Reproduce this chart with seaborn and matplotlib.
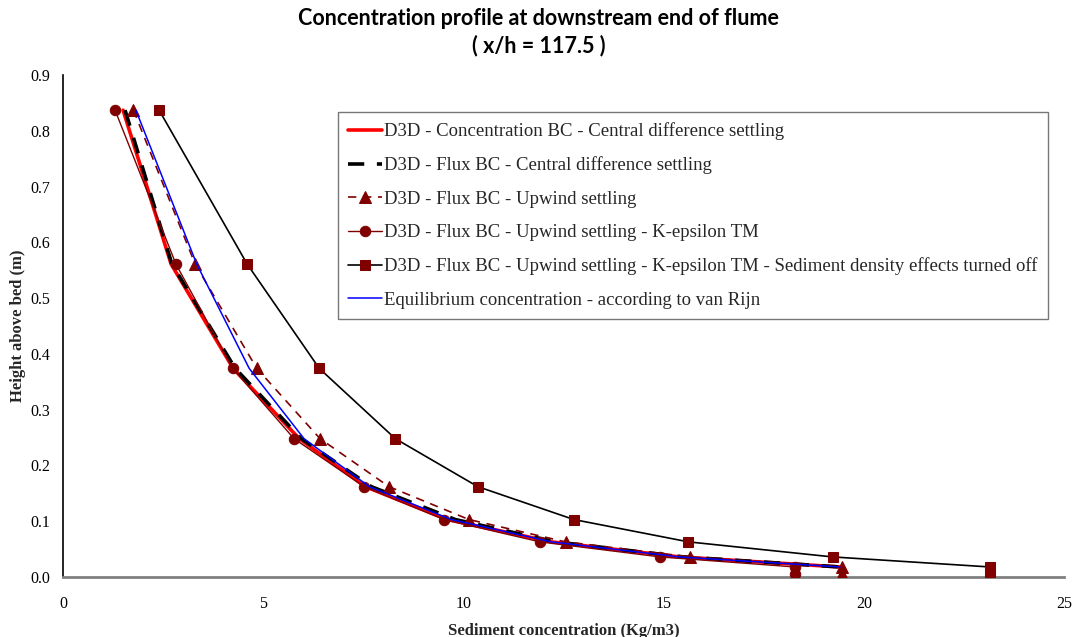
import matplotlib
matplotlib.use("Agg")
import matplotlib.pyplot as plt
import seaborn as sns
import pandas as pd

# ---- data ----
heights = [0.837, 0.561, 0.374, 0.248, 0.162, 0.103, 0.063, 0.036, 0.018]
heights_ext = [0.837, 0.561, 0.374, 0.248, 0.162, 0.103, 0.063, 0.036, 0.018, 0.005]

conc_bc_central = [1.50, 2.70, 4.25, 5.90, 7.55, 9.60, 12.20, 15.40, 19.40]
flux_bc_central = [1.55, 2.72, 4.30, 5.95, 7.70, 9.80, 12.30, 15.50, 19.40]
flux_bc_upwind = [1.76, 3.30, 4.84, 6.42, 8.14, 10.14, 12.55, 15.66, 19.45, 19.45]
flux_bc_upwind_keps = [1.30, 2.82, 4.24, 5.77, 7.52, 9.52, 11.91, 14.91, 18.28, 18.28]
flux_bc_upwind_keps_nodens = [2.40, 4.60, 6.40, 8.30, 10.36, 12.76, 15.62, 19.22, 23.15, 23.15]
equilibrium_vanrijn = [1.82, 3.34, 4.65, 6.02, 7.65, 9.70, 12.20, 15.40, 19.40]

labels = [
    "D3D - Concentration BC - Central difference settling",
    "D3D - Flux BC - Central difference settling",
    "D3D - Flux BC - Upwind settling",
    "D3D - Flux BC - Upwind settling - K-epsilon TM",
    "D3D - Flux BC - Upwind settling - K-epsilon TM - Sediment density effects turned off",
    "Equilibrium concentration - according to van Rijn",
]

title = "Concentration profile at downstream end of flume\n( x/h = 117.5 )"
xlabel = "Sediment concentration (Kg/m3)"
ylabel = "Height above bed (m)"
xticks = [0, 5, 10, 15, 20, 25]
yticks = [0.0, 0.1, 0.2, 0.3, 0.4, 0.5, 0.6, 0.7, 0.8, 0.9]

# ---- plot ----
sns.set_style("white")
plt.rcParams["font.family"] = ["Liberation Serif", "DejaVu Serif"]

fig = plt.figure(figsize=(10.77, 6.37), dpi=100)
ax = fig.add_axes([63 / 1077, 1 - 577 / 637, (1064 - 63) / 1077, (577 - 75) / 637])

dark_red = "#800000"

def draw(xs, ys, label, **kw):
    df = pd.DataFrame({"x": xs, "y": ys[: len(xs)]})
    sns.lineplot(data=df, x="x", y="y", sort=False, estimator=None, ax=ax,
                 label=label, **kw)

draw(conc_bc_central, heights, labels[0], color="#FF0000", linewidth=2.6, zorder=3)
draw(flux_bc_central, heights, labels[1], color="black", linewidth=2.6,
     dashes=(4.5, 3.5), zorder=4)
draw(flux_bc_upwind, heights_ext, labels[2], color=dark_red, linewidth=1.2,
     dashes=(5, 4), marker="^", markersize=8, markeredgecolor=dark_red,
     markerfacecolor=dark_red, zorder=5)
draw(flux_bc_upwind_keps, heights_ext, labels[3], color=dark_red, linewidth=1.0,
     marker="o", markersize=7.5, markeredgecolor=dark_red,
     markerfacecolor=dark_red, zorder=5)
draw(flux_bc_upwind_keps_nodens, heights_ext, labels[4], color="black", linewidth=1.2,
     marker="s", markersize=7.5, markeredgecolor=dark_red,
     markerfacecolor=dark_red, zorder=5)
draw(equilibrium_vanrijn, heights, labels[5], color="#0000FF", linewidth=1.1, zorder=6)

ax.set_xlim(0, 25)
ax.set_ylim(0, 0.9)
ax.set_xticks(xticks)
ax.set_yticks(yticks)
ax.set_xticklabels([str(t) for t in xticks])
ax.set_yticklabels([f"{t:.1f}" for t in yticks])
ax.tick_params(axis="both", direction="inout", length=9, width=1, labelsize=11.5,
               colors="black")
ax.tick_params(axis="y", pad=5)
ax.tick_params(axis="x", pad=9)

for side in ["top", "right"]:
    ax.spines[side].set_visible(False)
ax.spines["left"].set_color("black")
ax.spines["left"].set_linewidth(1.2)
ax.spines["bottom"].set_color("#808080")
ax.spines["bottom"].set_linewidth(2.0)
ax.grid(False)

ax.set_xlabel(xlabel, fontsize=12, fontweight="bold", labelpad=8)
ax.set_ylabel(ylabel, fontsize=12, fontweight="bold", labelpad=3)

fig.suptitle(title, fontsize=15.5, fontweight="bold", family=["Lato", "DejaVu Sans"],
             x=0.5, y=0.988, linespacing=1.35, color="black")

leg = ax.legend(loc="upper left", bbox_to_anchor=((338 - 63) / 1001, 1 - (112 - 75) / 502),
                fontsize=13.5, frameon=True, fancybox=False, handlelength=1.8,
                handletextpad=0.1, labelspacing=0.87, borderpad=0.55,
                borderaxespad=0)
leg.get_frame().set_edgecolor("#555555")
leg.get_frame().set_linewidth(1.0)

fig.savefig("out.png", dpi=100, facecolor="white")
